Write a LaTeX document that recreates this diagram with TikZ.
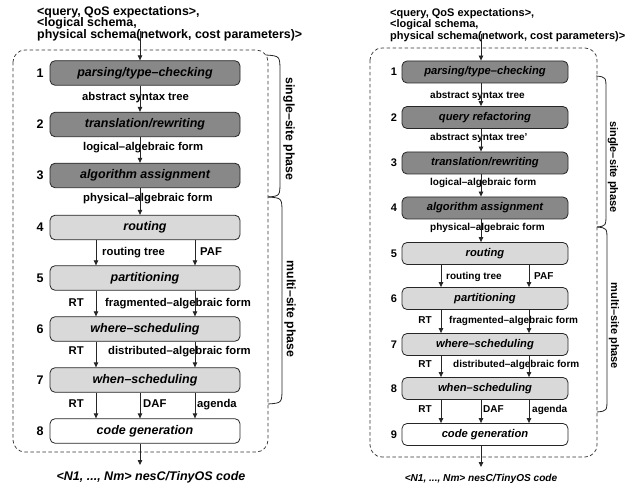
\documentclass[tikz,border=0pt]{standalone}
\usepackage{fontspec}
\setmainfont{Liberation Sans}
\usetikzlibrary{arrows.meta}
\definecolor{darkbox}{RGB}{136,136,136}
\definecolor{lightbox}{RGB}{217,217,217}
\newcommand\LtopF{\fontsize{12.4}{13}\selectfont\bfseries}
\newcommand\LnodeF{\fontsize{12.5}{13}\selectfont\bfseries\itshape}
\newcommand\LedgeF{\fontsize{11.3}{12}\selectfont\bfseries}
\newcommand\LnumF{\fontsize{12.5}{13}\selectfont\bfseries}
\newcommand\LphF{\fontsize{12.3}{13}\selectfont\bfseries}
\newcommand\RtopF{\fontsize{11}{12}\selectfont\bfseries}
\newcommand\RnodeF{\fontsize{11.2}{12}\selectfont\bfseries\itshape}
\newcommand\RedgeF{\fontsize{10}{11}\selectfont\bfseries}
\newcommand\RnumF{\fontsize{11}{12}\selectfont\bfseries}
\newcommand\RphF{\fontsize{11}{12}\selectfont\bfseries}
\begin{document}
\begin{tikzpicture}[x=1pt,y=-1pt,
  box/.style={draw=black!85, line width=0.8pt, rounded corners=5pt, inner sep=0pt},
  lbox/.style={box, minimum width=190pt, minimum height=24.5pt, font=\LnodeF},
  rbox/.style={box, minimum width=166pt, minimum height=22pt, font=\RnodeF},
  dk/.style={fill=darkbox}, lt/.style={fill=lightbox}, wt/.style={fill=white},
  arr/.style={-{Triangle[length=5pt,width=4.5pt]}, line width=0.8pt, black!85},
  ltxt/.style={inner sep=0pt, anchor=base west},
  rtxt/.style={inner sep=0pt, anchor=base east},
  frame/.style={draw=black!80, line width=0.7pt, dash pattern=on 3.5pt off 2.5pt, rounded corners=12pt},
  bracket/.style={draw=black!85, line width=0.8pt},
  phase/.style={inner sep=0pt, rotate=-90}
]
\useasboundingbox (0,0) rectangle (627,489);

% ================= LEFT =================
\draw[frame] (13,50) rectangle (268,452);
\coordinate (Lc) at (140,0);
\coordinate (La) at (96,0);
\coordinate (Lb) at (195,0);

\node[ltxt, font=\LtopF] (Lin1) at (37,15.3) {<query, QoS expectations>,};
\node[ltxt, font=\LtopF] (Lin2) at (37,27) {<logical schema,};
\node[ltxt, font=\LtopF] (Lin3) at (37,38.7) {physical schema(network, cost parameters)>};
\coordinate (Lstart) at (140,31);

\node[lbox,dk] (L1) at (145,73) {parsing/type–checking};
\node[lbox,dk] (L2) at (145,124.5) {translation/rewriting};
\node[lbox,dk] (L3) at (145,175.5) {algorithm assignment};
\node[lbox,lt] (L4) at (145,227.5) {routing};
\node[lbox,lt] (L5) at (145,278) {partitioning};
\node[lbox,lt] (L6) at (145,329) {where–scheduling};
\node[lbox,lt] (L7) at (145,380) {when–scheduling};
\node[lbox,wt] (L8) at (145,431) {code generation};

\foreach \i/\y in {1/73,2/124.5,3/175.5,4/227.5,5/278,6/329,7/380,8/431}
  \node[font=\LnumF, inner sep=0pt] (Lnum\i) at (40,\y) {\i};

\node[ltxt, font=\LedgeF] (Le1) at (82,101) {abstract syntax tree};
\node[ltxt, font=\LedgeF] (Le2) at (83,151) {logical–algebraic form};
\node[ltxt, font=\LedgeF] (Le3) at (83,202) {physical–algebraic form};
\node[ltxt, font=\LedgeF] (Le4a) at (102,256) {routing tree};
\node[ltxt, font=\LedgeF] (Le4b) at (200,256) {PAF};
\node[rtxt, font=\LedgeF] (Le5a) at (84,307) {RT};
\node[ltxt, font=\LedgeF] (Le5b) at (105,307) {fragmented–algebraic form};
\node[rtxt, font=\LedgeF] (Le6a) at (84,355) {RT};
\node[ltxt, font=\LedgeF] (Le6b) at (108,355) {distributed–algebraic form};
\node[rtxt, font=\LedgeF] (Le7a) at (84,407) {RT};
\node[ltxt, font=\LedgeF] (Le7b) at (143,407) {DAF};
\node[ltxt, font=\LedgeF] (Le7c) at (197,407) {agenda};

\node[inner sep=0pt, anchor=base, font=\LnodeF] (Lout) at (151,480.5) {<N1, ..., Nm> nesC/TinyOS code};

\draw[arr] (Lstart) -- (L1.north -| Lc);
\draw[arr] (L1.south -| Lc) -- (L2.north -| Lc);
\draw[arr] (L2.south -| Lc) -- (L3.north -| Lc);
\draw[arr] (L3.south -| Lc) -- (L4.north -| Lc);
\foreach \a/\b in {L4/L5,L5/L6,L6/L7,L7/L8}{
  \draw[arr] (\a.south -| La) -- (\b.north -| La);
  \draw[arr] (\a.south -| Lb) -- (\b.north -| Lb);
}
\draw[arr] (L7.south -| Lc) -- (L8.north -| Lc);
\draw[arr] (L8.south -| Lc) -- (Lc |- 0,465);

\draw[bracket] (266,55) .. controls (280,56) .. (280,72) -- (280,181) .. controls (280,196) .. (268,197);
\draw[bracket] (268,197) .. controls (282,198) .. (282,213) -- (282,388) .. controls (282,403) .. (268,404);
\node[phase, font=\LphF] (Lph1) at (289,129) {single–site phase};
\node[phase, font=\LphF] (Lph2) at (290,309) {multi–site phase};

% ================= RIGHT =================
\draw[frame] (370,48) rectangle (597,457);
\coordinate (Rc) at (481,0);
\coordinate (Ra) at (441,0);
\coordinate (Rb) at (529,0);

\node[ltxt, font=\RtopF] (Rin1) at (390,16.5) {<query, QoS expectations>,};
\node[ltxt, font=\RtopF] (Rin2) at (390,27.8) {<logical schema,};
\node[ltxt, font=\RtopF] (Rin3) at (390,39.8) {physical schema(network, cost parameters)>};
\coordinate (Rstart) at (481,34);

\node[rbox,dk] (R1) at (485,72) {parsing/type–checking};
\node[rbox,dk] (R2) at (485,117.5) {query refactoring};
\node[rbox,dk] (R3) at (485,163) {translation/rewriting};
\node[rbox,dk] (R4) at (485,208) {algorithm assignment};
\node[rbox,lt] (R5) at (485,253.5) {routing};
\node[rbox,lt] (R6) at (485,298.5) {partitioning};
\node[rbox,lt] (R7) at (485,344.5) {where–scheduling};
\node[rbox,lt] (R8) at (485,388.5) {when–scheduling};
\node[rbox,wt] (R9) at (485,434.5) {code generation};

\foreach \i/\y in {1/72,2/117.5,3/163,4/208,5/253.5,6/298.5,7/344.5,8/388.5,9/434.5}
  \node[font=\RnumF, inner sep=0pt] (Rnum\i) at (394,\y) {\i};

\node[ltxt, font=\RedgeF] (Re1) at (430,98.5) {abstract syntax tree};
\node[ltxt, font=\RedgeF] (Re2) at (430,140.5) {abstract syntax tree'};
\node[ltxt, font=\RedgeF] (Re3) at (430,185.5) {logical–algebraic form};
\node[ltxt, font=\RedgeF] (Re4) at (430,230.5) {physical–algebraic form};
\node[ltxt, font=\RedgeF] (Re5a) at (446,279.5) {routing tree};
\node[ltxt, font=\RedgeF] (Re5b) at (534,279.5) {PAF};
\node[rtxt, font=\RedgeF] (Re6a) at (432,323.5) {RT};
\node[ltxt, font=\RedgeF] (Re6b) at (449,323.5) {fragmented–algebraic form};
\node[rtxt, font=\RedgeF] (Re7a) at (432,367.5) {RT};
\node[ltxt, font=\RedgeF] (Re7b) at (453,367.5) {distributed–algebraic form};
\node[rtxt, font=\RedgeF] (Re8a) at (432,412.5) {RT};
\node[ltxt, font=\RedgeF] (Re8b) at (483,412.5) {DAF};
\node[ltxt, font=\RedgeF] (Re8c) at (532,412.5) {agenda};

\node[inner sep=0pt, anchor=base, font=\RnodeF\fontsize{10.1}{11}\selectfont] (Rout) at (481,481) {<N1, ..., Nm> nesC/TinyOS code};

\draw[arr] (Rstart) -- (R1.north -| Rc);
\foreach \a/\b in {R1/R2,R2/R3,R3/R4,R4/R5}
  \draw[arr] (\a.south -| Rc) -- (\b.north -| Rc);
\foreach \a/\b in {R5/R6,R6/R7,R7/R8,R8/R9}{
  \draw[arr] (\a.south -| Ra) -- (\b.north -| Ra);
  \draw[arr] (\a.south -| Rb) -- (\b.north -| Rb);
}
\draw[arr] (R8.south -| Rc) -- (R9.north -| Rc);
\draw[arr] (R9.south -| Rc) -- (Rc |- 0,467);

\draw[bracket] (596,76) .. controls (606,77) .. (606,90) -- (606,213) .. controls (606,226) .. (597,227);
\draw[bracket] (597,227) .. controls (607,228) .. (607,241) -- (607,398) .. controls (607,411) .. (597,412);
\node[phase, font=\RphF] (Rph1) at (613,167) {single–site phase};
\node[phase, font=\RphF] (Rph2) at (614,326) {multi–site phase};
\end{tikzpicture}
\end{document}
